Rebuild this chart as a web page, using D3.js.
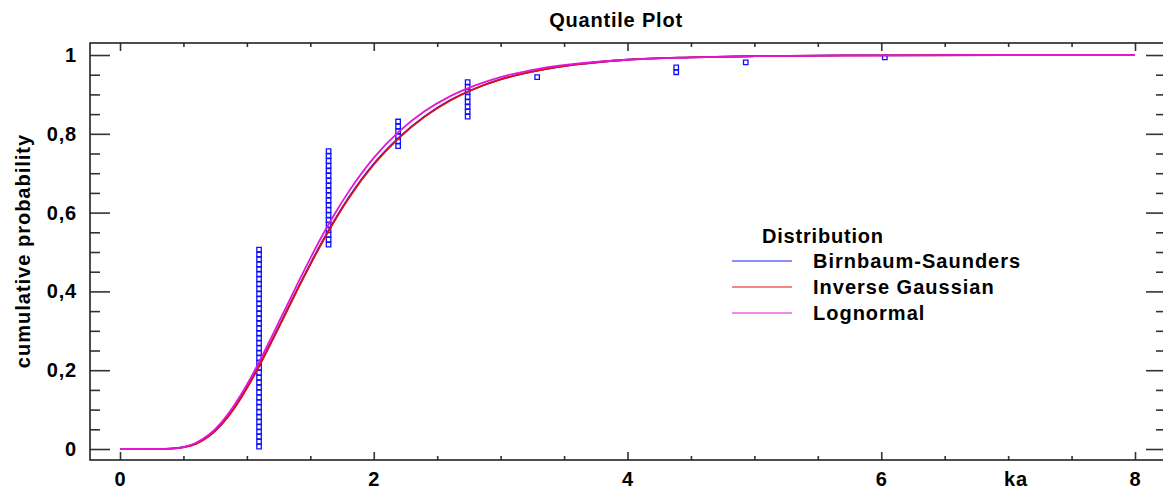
<!DOCTYPE html>
<html>
<head>
<meta charset="utf-8">
<script src="https://cdn.jsdelivr.net/npm/d3@7"></script>
<style>
    body { margin: 0; background: #fff; }
    text { font-family: "Liberation Sans", Arial, sans-serif; font-weight: bold; fill: #000; }
    .tick line { stroke: #333; stroke-width: 1.6; }
</style>
</head>
<body>
<div class="quantile"></div>
<script>
// sample (ka) and how many observations sit on each value
let sampleKa = [1.096, 1.644, 2.192, 2.74, 3.288, 4.384, 4.932, 6.028];
let sampleCount = [41, 20, 6, 8, 1, 2, 1, 1];

// fitted cdfs
let curveKa = [0, 0.2, 0.3, 0.4, 0.5, 0.6, 0.7, 0.8, 0.9, 1.0, 1.1, 1.2, 1.3, 1.4, 1.5, 1.6, 1.7, 1.8, 2.0, 2.2, 2.4, 2.6, 2.8, 3.0, 3.3, 3.6, 4.0, 4.5, 5.0, 6.0, 7.0, 8.0];
let birnbaumSaunders = [0, 0, 0.0001, 0.0009, 0.0045, 0.014, 0.033, 0.063, 0.104, 0.156, 0.214, 0.277, 0.342, 0.407, 0.47, 0.53, 0.586, 0.637, 0.724, 0.791, 0.844, 0.885, 0.915, 0.938, 0.961, 0.976, 0.988, 0.994, 0.997, 0.9993, 1.0, 1.0];
let inverseGaussian = [0, 0, 0.0001, 0.0008, 0.004, 0.013, 0.032, 0.062, 0.103, 0.154, 0.212, 0.275, 0.34, 0.405, 0.468, 0.528, 0.584, 0.635, 0.722, 0.79, 0.843, 0.884, 0.915, 0.938, 0.961, 0.976, 0.988, 0.994, 0.997, 0.9993, 1.0, 1.0];
let lognormal = [0, 0, 0.0001, 0.001, 0.005, 0.016, 0.036, 0.068, 0.111, 0.163, 0.223, 0.288, 0.354, 0.42, 0.484, 0.545, 0.601, 0.652, 0.739, 0.806, 0.857, 0.895, 0.923, 0.944, 0.965, 0.978, 0.988, 0.994, 0.997, 0.999, 1.0, 1.0];

let seriesNames = ["Birnbaum-Saunders", "Inverse Gaussian", "Lognormal"];
let seriesColors = ["#1f1fff", "#e01010", "#e414d8"];

let xTicks = [0, 2, 4, 6, 8];
let xMinorTicks = [0.5, 1, 1.5, 2.5, 3, 3.5, 4.5, 5, 5.5, 6.5, 7, 7.5];
let yTicks = [0, 0.2, 0.4, 0.6, 0.8, 1];
let yMinorTicks = [0.05, 0.1, 0.15, 0.25, 0.3, 0.35, 0.45, 0.5, 0.55, 0.65, 0.7, 0.75, 0.85, 0.9, 0.95];

let svgWidth = 1163;
let svgHeight = 492;
let frame = { left: 90, top: 43, right: 1166, bottom: 460 };

let svg = d3.select(".quantile")
    .append("svg")
    .attr("width", svgWidth)
    .attr("height", svgHeight);

let xScale = d3.scaleLinear()
    .domain([-0.2365, 8.2443])
    .range([frame.left, frame.right]);
let yScale = d3.scaleLinear()
    .domain([-0.0279, 1.0305])
    .range([frame.bottom, frame.top]);

let comma = d3.formatLocale({ decimal: ",", thousands: ".", grouping: [3], currency: ["", ""] }).format("~g");

// axes, ticks pointing inward
function addAxis(axis, tx, ty){
    let g = svg.append("g")
        .attr("transform", `translate(${tx}, ${ty})`)
        .call(axis);
    g.select(".domain").remove();
    return g;
}
let bottomAxis = addAxis(d3.axisBottom(xScale).tickValues(xTicks).tickSizeInner(-8).tickSizeOuter(0).tickPadding(12), 0, frame.bottom);
addAxis(d3.axisBottom(xScale).tickValues(xMinorTicks).tickSizeInner(-4).tickSizeOuter(0).tickFormat(""), 0, frame.bottom);
addAxis(d3.axisTop(xScale).tickValues(xTicks).tickSizeInner(-8).tickSizeOuter(0).tickFormat(""), 0, frame.top);
addAxis(d3.axisTop(xScale).tickValues(xMinorTicks).tickSizeInner(-4).tickSizeOuter(0).tickFormat(""), 0, frame.top);
let leftAxis = addAxis(d3.axisLeft(yScale).tickValues(yTicks).tickSizeInner(-20).tickSizeOuter(0).tickPadding(13).tickFormat(comma), frame.left, 0);
addAxis(d3.axisLeft(yScale).tickValues(yMinorTicks).tickSizeInner(-10).tickSizeOuter(0).tickFormat(""), frame.left, 0);
addAxis(d3.axisRight(yScale).tickValues(yTicks).tickSizeInner(-20).tickSizeOuter(0).tickFormat(""), frame.right, 0);
addAxis(d3.axisRight(yScale).tickValues(yMinorTicks).tickSizeInner(-10).tickSizeOuter(0).tickFormat(""), frame.right, 0);

bottomAxis.selectAll("text").style("font-size", "20px").style("letter-spacing", "0.8px");
leftAxis.selectAll("text").style("font-size", "20px").style("letter-spacing", "0.8px");

svg.append("rect")
    .attr("x", frame.left)
    .attr("y", frame.top)
    .attr("width", frame.right - frame.left)
    .attr("height", frame.bottom - frame.top)
    .attr("fill", "none")
    .attr("stroke", "#222")
    .attr("stroke-width", 1.6);

// observations at their plotting positions
let n = d3.sum(sampleCount);
let points = [];
let rank = 0;
sampleKa.forEach(function(ka, i){
    for(let k = 0; k < sampleCount[i]; k++){
        rank++;
        points.push({ ka: ka, p: (rank - 0.5) / n });
    }
});
svg.append("g")
    .selectAll("path")
    .data(points)
    .enter()
    .append("path")
    .attr("d", d3.symbol(d3.symbolSquare, 20))
    .attr("transform", d => `translate(${xScale(d.ka)}, ${yScale(d.p)})`)
    .attr("fill", "none")
    .attr("stroke", "#1010ff")
    .attr("stroke-width", 1.3);

// fitted curves
let curves = [birnbaumSaunders, inverseGaussian, lognormal];
let line = d3.line()
    .x((d, i) => xScale(curveKa[i]))
    .y(d => yScale(d))
    .curve(d3.curveMonotoneX);
svg.append("g")
    .selectAll("path")
    .data(curves)
    .enter()
    .append("path")
    .attr("d", d => line(d))
    .attr("fill", "none")
    .attr("stroke", (d, i) => seriesColors[i])
    .attr("stroke-width", 1.8);

// labels
svg.append("text")
    .attr("x", 616)
    .attr("y", 27)
    .attr("text-anchor", "middle")
    .style("font-size", "20px")
    .style("letter-spacing", "0.8px")
    .text("Quantile Plot");
svg.append("text")
    .attr("x", 1016)
    .attr("y", 486)
    .attr("text-anchor", "middle")
    .style("font-size", "20px")
    .style("letter-spacing", "0.8px")
    .text("ka");
svg.append("text")
    .attr("transform", "rotate(-90)")
    .attr("x", -251)
    .attr("y", 30)
    .attr("text-anchor", "middle")
    .style("font-size", "20px")
    .style("letter-spacing", "1px")
    .text("cumulative probability");

// legend
let legend = svg.append("g").attr("transform", "translate(732, 261)");
legend.append("text")
    .attr("x", 30)
    .attr("y", -18)
    .style("font-size", "20px")
    .style("letter-spacing", "0.8px")
    .text("Distribution");
let rows = legend.selectAll(".row")
    .data(seriesNames)
    .enter()
    .append("g")
    .attr("class", "row")
    .attr("transform", (d, i) => `translate(0, ${i * 26})`);
rows.append("line")
    .attr("x1", 0)
    .attr("x2", 60)
    .attr("stroke", (d, i) => seriesColors[i])
    .attr("stroke-width", 1);
rows.append("text")
    .attr("x", 81)
    .attr("dy", "0.36em")
    .style("font-size", "20px")
    .style("letter-spacing", "1px")
    .text(d => d);
</script>
</body>
</html>
